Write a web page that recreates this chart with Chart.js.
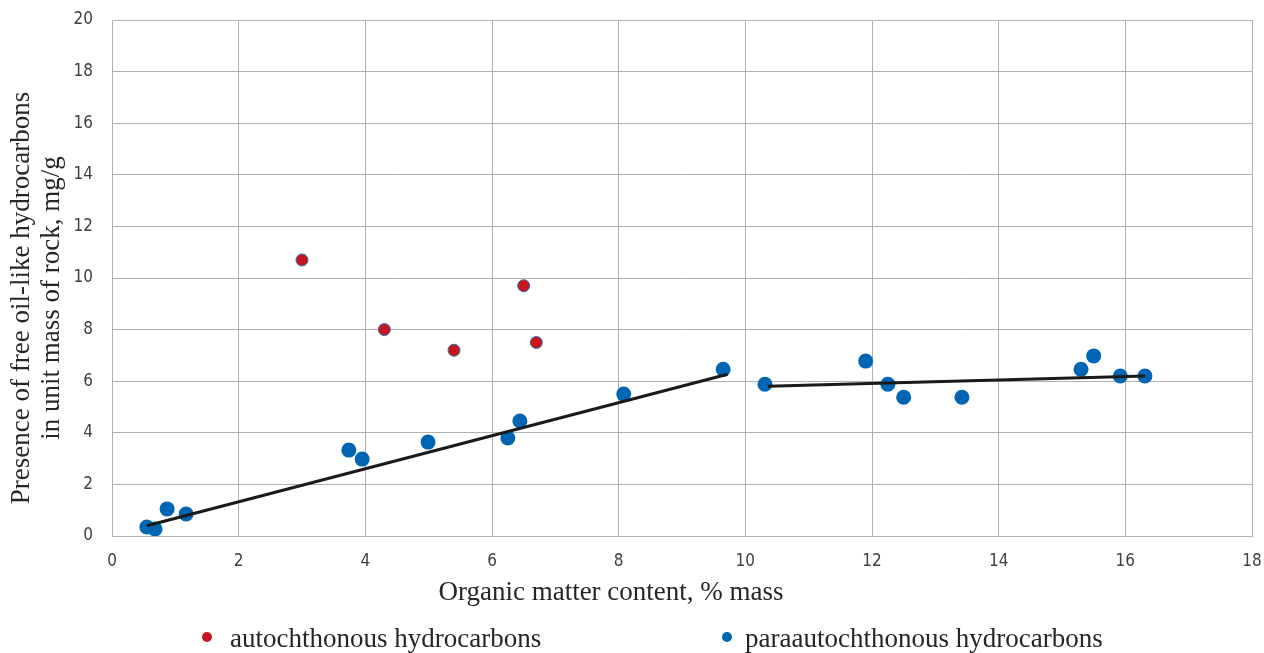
<!DOCTYPE html>
<html>
<head>
<meta charset="utf-8">
<script src="https://cdn.jsdelivr.net/npm/chart.js@4/dist/chart.umd.min.js"></script>
<style>
  html, body { margin: 0; padding: 0; background: #ffffff; }
  #wrap { width: 1264px; height: 653px; }
</style>
</head>
<body>
<div id="wrap"><canvas id="c" width="1264" height="653"></canvas></div>
<script>
// ---- data ----
const autoLabel = 'autochthonous hydrocarbons';
const paraLabel = 'paraautochthonous hydrocarbons';
const autoX = [3.0, 4.3, 5.4, 6.5, 6.7];
const autoY = [10.7, 8.0, 7.2, 9.7, 7.5];
const paraX = [0.55, 0.68, 0.87, 1.17, 3.74, 3.95, 4.99, 6.25, 6.44, 8.08, 9.65, 10.31, 11.9, 12.25, 12.5, 13.42, 15.3, 15.5, 15.92, 16.31];
const paraY = [0.35, 0.27, 1.05, 0.85, 3.33, 2.98, 3.64, 3.80, 4.46, 5.50, 6.46, 5.88, 6.78, 5.88, 5.38, 5.38, 6.46, 6.98, 6.20, 6.20];
const trend1X = [0.55, 9.72];
const trend1Y = [0.40, 6.27];
const trend2X = [10.36, 16.31];
const trend2Y = [5.80, 6.20];
const xTitle = 'Organic matter content, % mass';
const yTitleLines = ['Presence of free oil-like hydrocarbons', 'in unit mass of rock, mg/g'];
const xMin = 0, xMax = 18, xStep = 2;
const yMin = 0, yMax = 20, yStep = 2;

const pts = (xs, ys) => xs.map((x, i) => ({ x: x, y: ys[i] }));

const RED = '#c8141e';
const BLUE = '#0066b3';
const GRID = '#b0b0b0';
const SERIF = "'Liberation Serif', 'Times New Roman', serif";
const TICKFONT = "'Liberation Sans Narrow', 'DejaVu Sans Condensed', 'Liberation Sans', sans-serif";

const annotate = {
  id: 'annotate',
  afterDraw(chart) {
    const ctx = chart.ctx;
    ctx.save();
    ctx.fillStyle = '#262626';
    ctx.font = '27px ' + SERIF;
    ctx.textAlign = 'center';
    ctx.textBaseline = 'middle';
    // x title
    ctx.fillText(xTitle, 611, 593);
    // y title
    ctx.save();
    ctx.translate(22, 298);
    ctx.rotate(-Math.PI / 2);
    ctx.fillText(yTitleLines[0], 0, 0);
    ctx.restore();
    ctx.save();
    ctx.translate(52, 298);
    ctx.rotate(-Math.PI / 2);
    ctx.fillText(yTitleLines[1], 0, 0);
    ctx.restore();
    // legend
    const items = [
      { label: chart.data.datasets[0].label, color: chart.data.datasets[0].backgroundColor, dot: 207, text: 230 },
      { label: chart.data.datasets[1].label, color: chart.data.datasets[1].backgroundColor, dot: 727, text: 745 }
    ];
    ctx.textAlign = 'left';
    items.forEach(it => {
      ctx.beginPath();
      ctx.arc(it.dot, 637, 5, 0, Math.PI * 2);
      ctx.fillStyle = it.color;
      ctx.fill();
      ctx.fillStyle = '#262626';
      ctx.fillText(it.label, it.text, 640);
    });
    ctx.restore();
  }
};

function zeroPad(scale) {
  scale.paddingTop = 0; scale.paddingBottom = 0;
  scale.paddingLeft = 0; scale.paddingRight = 0;
}

new Chart(document.getElementById('c'), {
  type: 'scatter',
  data: {
    datasets: [
      { label: autoLabel, data: pts(autoX, autoY), backgroundColor: RED, borderColor: '#2e6db0', borderWidth: 1, pointRadius: 6, pointHoverRadius: 6, order: 1 },
      { label: paraLabel, data: pts(paraX, paraY), backgroundColor: BLUE, borderColor: BLUE, borderWidth: 0, pointRadius: 7.5, pointHoverRadius: 7.5, order: 3 },
      { label: 'trend 1', type: 'line', data: pts(trend1X, trend1Y), borderColor: '#1a1a1a', borderWidth: 3, pointRadius: 0, fill: false, order: 2 },
      { label: 'trend 2', type: 'line', data: pts(trend2X, trend2Y), borderColor: '#1a1a1a', borderWidth: 3, pointRadius: 0, fill: false, order: 2 }
    ]
  },
  options: {
    responsive: false,
    animation: false,
    layout: { padding: { left: 0, top: 20, right: 12, bottom: 0 } },
    plugins: { legend: { display: false }, tooltip: { enabled: false } },
    scales: {
      x: {
        type: 'linear', min: xMin, max: xMax,
        ticks: { stepSize: xStep, padding: 15, color: '#404040', font: { family: TICKFONT, size: 17 } },
        grid: { color: GRID, lineWidth: 1, drawTicks: false },
        border: { color: GRID, width: 1 },
        afterFit(scale) { scale.height = 117; zeroPad(scale); }
      },
      y: {
        type: 'linear', min: yMin, max: yMax,
        ticks: { stepSize: yStep, padding: 19, color: '#404040', font: { family: TICKFONT, size: 17 } },
        grid: { color: GRID, lineWidth: 1, drawTicks: false },
        border: { color: GRID, width: 1 },
        afterFit(scale) { scale.width = 112; zeroPad(scale); }
      }
    }
  },
  plugins: [annotate]
});
</script>
</body>
</html>
